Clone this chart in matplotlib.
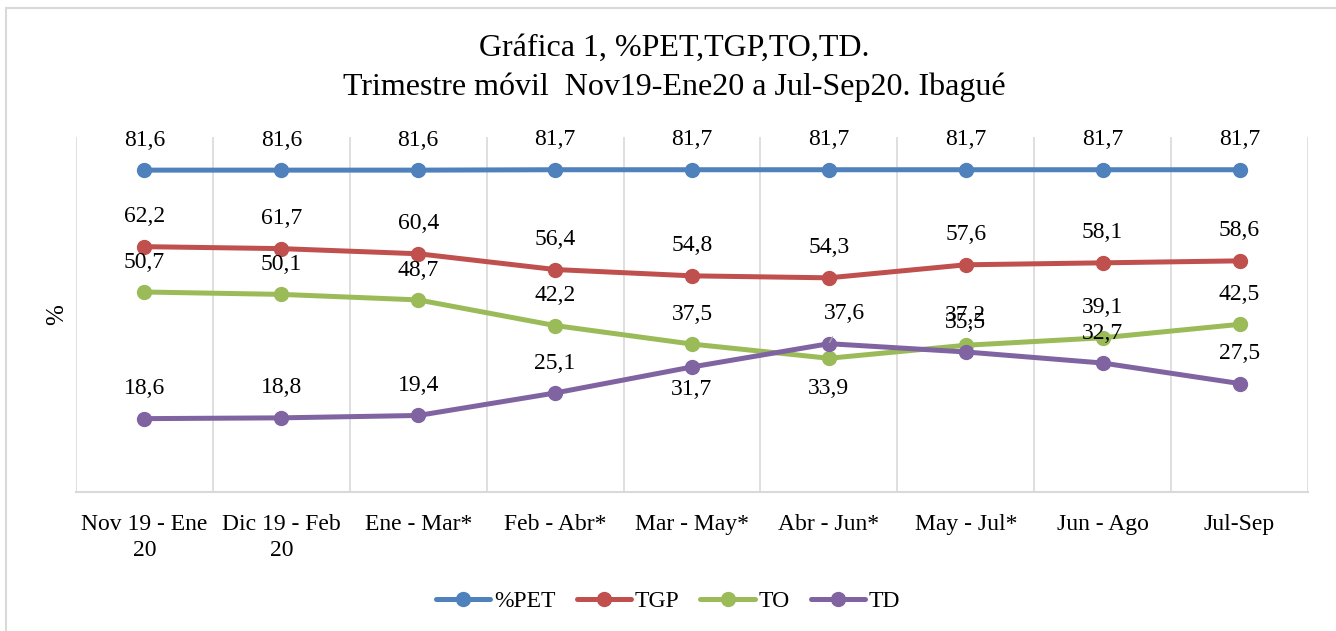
import matplotlib
matplotlib.use("Agg")
import matplotlib.pyplot as plt
from matplotlib.patches import Rectangle

plt.rcParams["font.family"] = ["Liberation Serif", "DejaVu Serif"]

periods = ["Nov 19 - Ene\n20", "Dic 19 - Feb\n20", "Ene - Mar*", "Feb - Abr*",
           "Mar - May*", "Abr - Jun*", "May - Jul*", "Jun - Ago", "Jul-Sep"]
pet = [81.6, 81.6, 81.6, 81.7, 81.7, 81.7, 81.7, 81.7, 81.7]
tgp = [62.2, 61.7, 60.4, 56.4, 54.8, 54.3, 57.6, 58.1, 58.6]
to = [50.7, 50.1, 48.7, 42.2, 37.5, 33.9, 37.2, 39.1, 42.5]
td = [18.6, 18.8, 19.4, 25.1, 31.7, 37.6, 35.5, 32.7, 27.5]

series = [
    ("%PET", pet, "#4F81BD"),
    ("TGP", tgp, "#C0504D"),
    ("TO", to, "#9BBB59"),
    ("TD", td, "#8064A2"),
]

# label offsets in points (dx, dy); default is straight above the marker
above = (0, 21.5)
label_offsets = {
    "TO": {5: (0, -21.5)},
    "TD": {4: (0, -16.5), 5: (11.5, 21.5)},
}

fig = plt.figure(figsize=(13.36, 6.31), dpi=100)
fig.patches.append(Rectangle((6 / 1336, -0.01), 1.1, 1 - 8 / 631 + 0.01,
                             transform=fig.transFigure, fill=False,
                             edgecolor="#D9D9D9", linewidth=1.5))

ax = fig.add_axes([76 / 1336, 1 - 492 / 631, (1308 - 76) / 1336, (492 - 137) / 631])
x = list(range(len(periods)))

for name, vals, color in series:
    ax.plot(x, vals, color=color, linewidth=3.6, marker="o", markersize=10,
            label=name, solid_capstyle="round", zorder=3)
    offs = label_offsets.get(name, {})
    for i, v in enumerate(vals):
        dx, dy = offs.get(i, above)
        lbl = f"{v:.1f}".replace(".", ",")
        if name == "TD" and i == 5:
            ax.annotate(lbl, (i, v), xytext=(dx, dy), textcoords="offset points",
                        ha="center", va="center", fontsize=17,
                        arrowprops=dict(arrowstyle="-", color="#A6A6A6", lw=1,
                                        shrinkA=8, shrinkB=1))
        else:
            ax.annotate(lbl, (i, v), xytext=(dx, dy), textcoords="offset points",
                        ha="center", va="center", fontsize=17)

ax.set_xlim(-0.5, len(periods) - 0.5)
ax.set_ylim(0, 90)
ax.set_xticks(x)
ax.set_xticklabels(periods, fontsize=17, linespacing=1.3)
ax.set_yticks([])
ax.set_xticks([i + 0.5 for i in range(-1, len(periods))], minor=True)
ax.grid(True, which="minor", axis="x", color="#D9D9D9", linewidth=1.2)
ax.tick_params(axis="x", which="both", length=0, pad=16)
for s in ["top", "right", "left"]:
    ax.spines[s].set_visible(False)
ax.spines["bottom"].set_color("#D9D9D9")
ax.spines["bottom"].set_linewidth(1.5)
ax.set_ylabel("%", fontsize=18, labelpad=6)

fig.text(0.505, 1 - 68 / 631, "Gráfica 1, %PET,TGP,TO,TD.\nTrimestre móvil  Nov19-Ene20 a Jul-Sep20. Ibagué",
         ha="center", va="center", fontsize=23, linespacing=1.45)

fig.legend(loc="center", bbox_to_anchor=(0.5, 1 - 601 / 631), ncol=4, frameon=False,
           fontsize=17, handlelength=2.3, handletextpad=0.15, columnspacing=0.9)

fig.savefig("out.png", dpi=100)
